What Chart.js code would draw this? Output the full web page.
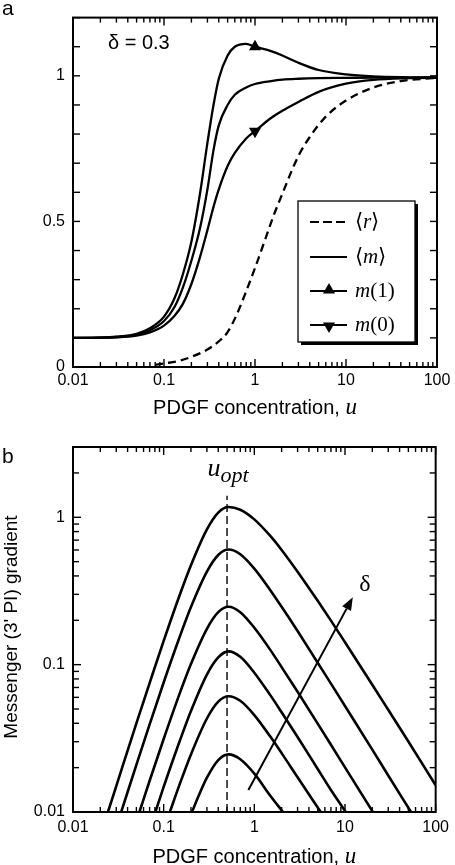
<!DOCTYPE html>
<html>
<head>
<meta charset="utf-8">
<script src="https://cdn.jsdelivr.net/npm/chart.js@4.4.1/dist/chart.umd.min.js"></script>
<style>
  html, body { margin: 0; padding: 0; background: #fff; }
  #wrap { position: relative; width: 455px; height: 865px; }
  canvas { position: absolute; left: 0; }
  #chartA { top: 0; }
  #chartB { top: 420px; }
</style>
</head>
<body>
<div id="wrap">
  <canvas id="chartA" width="455" height="420"></canvas>
  <canvas id="chartB" width="455" height="445"></canvas>
</div>
<script>
// axes
const xTickVals = [0.01, 0.1, 1, 10, 100];
const xTickLabels = ["0.01", "0.1", "1", "10", "100"];
const yTickValsA = [0, 0.5, 1];
const yTickLabelsA = ["0", "0.5", "1"];
const yTickValsB = [0.01, 0.1, 1];
const yTickLabelsB = ["0.01", "0.1", "1"];

// panel a (delta = 0.3)
const uR = [0.08, 0.1, 0.15, 0.2, 0.3, 0.4, 0.5, 0.63, 0.8, 1, 1.3, 1.6, 2, 2.5, 3, 4, 6, 10, 20, 40, 100];
const rMean = [0.007, 0.012, 0.022, 0.035, 0.06, 0.088, 0.12, 0.18, 0.26, 0.34, 0.44, 0.52, 0.595, 0.67, 0.725, 0.79, 0.86, 0.915, 0.96, 0.982, 0.993];

const uM = [0.01, 0.02, 0.03, 0.05, 0.07, 0.1, 0.13, 0.16, 0.2, 0.25, 0.3, 0.35, 0.4, 0.5, 0.6, 0.8, 1, 1.5, 2, 3, 5, 10, 20, 50, 100];
const mMean = [0.1, 0.101, 0.103, 0.111, 0.126, 0.158, 0.205, 0.27, 0.365, 0.48, 0.61, 0.745, 0.83, 0.9, 0.935, 0.96, 0.972, 0.982, 0.987, 0.99, 0.992, 0.993, 0.994, 0.994, 0.994];
const m1 = [0.1, 0.101, 0.104, 0.114, 0.133, 0.173, 0.235, 0.315, 0.43, 0.6, 0.77, 0.9, 0.99, 1.07, 1.1, 1.11, 1.1, 1.085, 1.07, 1.045, 1.02, 1.005, 0.998, 0.995, 0.994];
const m0 = [0.1, 0.101, 0.102, 0.108, 0.119, 0.142, 0.175, 0.215, 0.285, 0.38, 0.47, 0.55, 0.61, 0.69, 0.735, 0.785, 0.81, 0.855, 0.88, 0.91, 0.945, 0.973, 0.986, 0.992, 0.994];
const markerU = 1;

// panel b (messenger gradient, delta increasing upward)
const uB1 = [0.0243, 0.03, 0.05, 0.07, 0.1, 0.15, 0.2, 0.3, 0.4, 0.52, 0.7, 1, 1.5, 2, 3, 5, 7, 10, 20, 30, 50, 100];
const gB1 = [0.01, 0.015, 0.04, 0.075, 0.145, 0.296, 0.473, 0.828, 1.077, 1.175, 1.126, 0.968, 0.747, 0.6, 0.427, 0.271, 0.199, 0.142, 0.0731, 0.0494, 0.0301, 0.0152];
const uB2 = [0.034, 0.05, 0.07, 0.1, 0.15, 0.2, 0.3, 0.4, 0.52, 0.7, 1, 1.5, 2, 3, 5, 7, 10, 20, 30, 53.5];
const gB2 = [0.01, 0.0209, 0.0393, 0.0757, 0.154, 0.246, 0.428, 0.555, 0.604, 0.561, 0.448, 0.32, 0.247, 0.169, 0.103, 0.0744, 0.0524, 0.0265, 0.0177, 0.01];
const uB3 = [0.054, 0.07, 0.1, 0.15, 0.2, 0.3, 0.4, 0.52, 0.7, 1, 1.5, 2, 3, 5, 7, 10, 20.3];
const gB3 = [0.01, 0.0163, 0.0313, 0.0636, 0.101, 0.175, 0.227, 0.247, 0.227, 0.178, 0.126, 0.0962, 0.0654, 0.0398, 0.0286, 0.0201, 0.01];
const uB4 = [0.081, 0.1, 0.15, 0.2, 0.3, 0.4, 0.52, 0.7, 1, 1.5, 2, 3, 5, 7, 10.2];
const gB4 = [0.01, 0.0148, 0.0302, 0.0485, 0.0857, 0.112, 0.123, 0.113, 0.0882, 0.0621, 0.0475, 0.0323, 0.0196, 0.0141, 0.01];
const uB5 = [0.117, 0.15, 0.2, 0.3, 0.4, 0.52, 0.7, 1, 1.5, 2, 3, 5.4];
const gB5 = [0.01, 0.0154, 0.0246, 0.0431, 0.0561, 0.0611, 0.0569, 0.0455, 0.0325, 0.0251, 0.0172, 0.01];
const uB6 = [0.205, 0.25, 0.3, 0.4, 0.52, 0.7, 1, 1.5, 2.07];
const gB6 = [0.01, 0.0134, 0.0171, 0.0225, 0.0246, 0.0228, 0.0182, 0.0129, 0.01];

const uOpt = 0.5;
const uOptTop = 1.4;
const arrowFrom = [0.86, 0.0141];
const arrowTo = [12.2, 0.287];
const deltaLabelAt = [16.6, 0.35];

const SANS = '"Liberation Sans", Arial, sans-serif';
const SERIF = '"Liberation Serif", "Times New Roman", serif';

const pts = (xs, ys) => xs.map((x, i) => ({ x, y: ys[i] }));

function curve(data, width, extra = {}) {
    return Object.assign({
        data,
        borderColor: "#000",
        borderWidth: width,
        pointRadius: 0,
        fill: false,
        cubicInterpolationMode: "monotone"
    }, extra);
}

function logTicks() {
    const out = [];
    for (let n = -2; n <= 1; n++) {
        for (let k = 1; k <= 9; k++) out.push({ v: k * Math.pow(10, n), major: k === 1 });
    }
    out.push({ v: 100, major: true });
    return out;
}

function xAxis(pad) {
    return {
        type: "logarithmic",
        min: 0.01,
        max: 100,
        afterBuildTicks: s => { s.ticks = xTickVals.map(v => ({ value: v })); },
        afterFit: s => { s.height = 53; },
        ticks: {
            callback: v => xTickLabels[xTickVals.indexOf(v)],
            padding: pad,
            color: "#000",
            font: { family: SANS, size: 16 },
            maxRotation: 0,
            autoSkip: false
        },
        grid: { display: false, drawTicks: false },
        border: { display: false }
    };
}

function yAxis(type, min, max, vals, labels) {
    return {
        type,
        min,
        max,
        afterBuildTicks: s => { s.ticks = vals.map(v => ({ value: v })); },
        afterFit: s => { s.width = 73; },
        ticks: {
            callback: v => labels[vals.indexOf(v)],
            padding: 8,
            color: "#000",
            font: { family: SANS, size: 16 },
            autoSkip: false
        },
        grid: { display: false, drawTicks: false },
        border: { display: false }
    };
}

function seg(ctx, x0, y0, x1, y1) {
    ctx.beginPath();
    ctx.moveTo(x0, y0);
    ctx.lineTo(x1, y1);
    ctx.stroke();
}

// text made of pieces in different fonts
function runs(ctx, parts, x, y, align) {
    let w = 0;
    parts.forEach(p => { ctx.font = p[1]; w += ctx.measureText(p[0]).width; });
    let cx = align === "center" ? x - w / 2 : x;
    parts.forEach(p => {
        ctx.font = p[1];
        ctx.fillText(p[0], cx, y + (p[2] || 0));
        cx += ctx.measureText(p[0]).width;
    });
}

function frame(chart, yLog) {
    const { ctx, chartArea: a, scales: { x, y } } = chart;
    ctx.save();
    ctx.strokeStyle = "#000";
    ctx.lineWidth = 1.4;
    logTicks().forEach(t => {
        const px = x.getPixelForValue(t.v);
        const len = t.major ? 8 : 5;
        seg(ctx, px, a.bottom, px, a.bottom - len);
        seg(ctx, px, a.top, px, a.top + len);
    });
    if (yLog) {
        logTicks().forEach(t => {
            if (t.v < 0.01 || t.v > 3) return;
            const py = y.getPixelForValue(t.v);
            const len = t.major ? 8 : 6;
            seg(ctx, a.left, py, a.left + len, py);
            seg(ctx, a.right, py, a.right - len, py);
        });
    } else {
        for (let i = 0; i <= 12; i++) {
            const py = y.getPixelForValue(i / 10);
            seg(ctx, a.left, py, a.left + 7, py);
            seg(ctx, a.right, py, a.right - 7, py);
        }
    }
    ctx.lineWidth = 2;
    ctx.strokeRect(a.left, a.top, a.right - a.left, a.bottom - a.top);
    ctx.restore();
}

function xTitle(chart, baseY) {
    const { ctx, chartArea: a } = chart;
    ctx.save();
    ctx.fillStyle = "#000";
    ctx.textBaseline = "alphabetic";
    runs(ctx, [["PDGF concentration, ", "20px " + SANS], ["u", "italic 23px " + SERIF]], (a.left + a.right) / 2, baseY, "center");
    ctx.restore();
}

function triangle(ctx, cx, cy, r, down) {
    const s = down ? -1 : 1;
    ctx.beginPath();
    ctx.moveTo(cx, cy - s * r);
    ctx.lineTo(cx + r * 0.866, cy + s * r * 0.5);
    ctx.lineTo(cx - r * 0.866, cy + s * r * 0.5);
    ctx.closePath();
    ctx.fill();
}

const extrasA = {
    id: "extrasA",
    afterDraw(chart) {
        const { ctx } = chart;
        frame(chart, false);
        xTitle(chart, 414);
        ctx.save();
        ctx.fillStyle = "#000";
        ctx.textBaseline = "alphabetic";
        ctx.font = "21px " + SANS;
        ctx.fillText("a", 2, 15);
        ctx.font = "20px " + SANS;
        ctx.textBaseline = "middle";
        ctx.fillText("\u03b4 = 0.3", 108, 43);

        // legend box with shadow
        const bx = 298, by = 201, bw = 117, bh = 141;
        ctx.fillStyle = "#000";
        ctx.fillRect(bx + 3, by + 3, bw, bh);
        ctx.fillStyle = "#fff";
        ctx.fillRect(bx, by, bw, bh);
        ctx.strokeStyle = "#000";
        ctx.lineWidth = 1.3;
        ctx.strokeRect(bx, by, bw, bh);

        const rows = [222, 257, 291, 325];
        ctx.lineWidth = 2.2;
        ctx.fillStyle = "#000";
        rows.forEach((ry, i) => {
            ctx.setLineDash(i === 0 ? [9, 4] : []);
            seg(ctx, 310, ry, 347, ry);
            ctx.setLineDash([]);
            if (i === 2) triangle(ctx, 329, ry - 1, 7, false);
            if (i === 3) triangle(ctx, 329, ry + 1, 7, true);
        });
        ctx.textBaseline = "middle";
        const up = "21px " + SERIF, it = "italic 21px " + SERIF;
        runs(ctx, [["\u27e8", up], ["r", it], ["\u27e9", up]], 355, rows[0], "left");
        runs(ctx, [["\u27e8", up], ["m", it], ["\u27e9", up]], 355, rows[1], "left");
        runs(ctx, [["m", it], ["(1)", up]], 355, rows[2], "left");
        runs(ctx, [["m", it], ["(0)", up]], 355, rows[3], "left");
        ctx.restore();
    }
};

const extrasB = {
    id: "extrasB",
    afterDraw(chart) {
        const { ctx, chartArea: a, scales: { x, y } } = chart;
        frame(chart, true);
        xTitle(chart, 443);
        ctx.save();
        ctx.fillStyle = "#000";
        ctx.strokeStyle = "#000";
        ctx.textBaseline = "alphabetic";
        ctx.font = "21px " + SANS;
        ctx.fillText("b", 2, 43);

        // y title
        ctx.save();
        ctx.translate(17, 207);
        ctx.rotate(-Math.PI / 2);
        ctx.font = "19px " + SANS;
        ctx.textAlign = "center";
        ctx.fillText("Messenger (3' PI) gradient", 0, 0);
        ctx.restore();

        // u_opt label
        const ux = x.getPixelForValue(uOpt);
        runs(ctx, [["u", "italic 26px " + SERIF], ["opt", "italic 22px " + SERIF, 6]], ux + 1, a.top + 29, "center");

        // arrow for increasing delta
        const p0 = { x: x.getPixelForValue(arrowFrom[0]), y: y.getPixelForValue(arrowFrom[1]) };
        const p1 = { x: x.getPixelForValue(arrowTo[0]), y: y.getPixelForValue(arrowTo[1]) };
        const ang = Math.atan2(p1.y - p0.y, p1.x - p0.x);
        const hl = 13, hw = 5;
        const hx = p1.x - hl * Math.cos(ang), hy = p1.y - hl * Math.sin(ang);
        ctx.lineWidth = 2;
        seg(ctx, p0.x, p0.y, hx, hy);
        ctx.beginPath();
        ctx.moveTo(p1.x, p1.y);
        ctx.lineTo(hx + hw * Math.sin(ang), hy - hw * Math.cos(ang));
        ctx.lineTo(hx - hw * Math.sin(ang), hy + hw * Math.cos(ang));
        ctx.closePath();
        ctx.fill();

        ctx.font = "24px " + SERIF;
        ctx.textAlign = "center";
        ctx.textBaseline = "middle";
        ctx.fillText("\u03b4", x.getPixelForValue(deltaLabelAt[0]), y.getPixelForValue(deltaLabelAt[1]));
        ctx.restore();
    }
};

const markerR = c => (c.raw && c.raw.x === markerU ? 7 : 0);

new Chart(document.getElementById("chartA"), {
    type: "line",
    data: {
        datasets: [
            curve(pts(uR, rMean), 2.3, { borderDash: [8, 5] }),
            curve(pts(uM, mMean), 2.3),
            curve(pts(uM, m1), 2.3, { pointRadius: markerR, pointStyle: "triangle", pointBackgroundColor: "#000", pointBorderWidth: 0 }),
            curve(pts(uM, m0), 2.3, { pointRadius: markerR, pointStyle: "triangle", pointRotation: 180, pointBackgroundColor: "#000", pointBorderWidth: 0 })
        ]
    },
    options: {
        responsive: false,
        animation: false,
        layout: { padding: { left: 0, right: 18, top: 2, bottom: 0 } },
        scales: {
            x: xAxis(4),
            y: yAxis("linear", 0, 1.2, yTickValsA, yTickLabelsA)
        },
        plugins: { legend: { display: false }, tooltip: { enabled: false } }
    },
    plugins: [extrasA]
});

new Chart(document.getElementById("chartB"), {
    type: "line",
    data: {
        datasets: [
            curve(pts(uB1, gB1), 2.6),
            curve(pts(uB2, gB2), 2.6),
            curve(pts(uB3, gB3), 2.6),
            curve(pts(uB4, gB4), 2.6),
            curve(pts(uB5, gB5), 2.6),
            curve(pts(uB6, gB6), 2.6),
            curve([{ x: uOpt, y: 0.01 }, { x: uOpt, y: uOptTop }], 1.4, { borderDash: [8, 4], cubicInterpolationMode: "default", tension: 0 })
        ]
    },
    options: {
        responsive: false,
        animation: false,
        layout: { padding: { left: 0, right: 18, top: 27, bottom: 0 } },
        scales: {
            x: xAxis(6),
            y: yAxis("logarithmic", 0.01, 3, yTickValsB, yTickLabelsB)
        },
        plugins: { legend: { display: false }, tooltip: { enabled: false } }
    },
    plugins: [extrasB]
});
</script>
</body>
</html>
